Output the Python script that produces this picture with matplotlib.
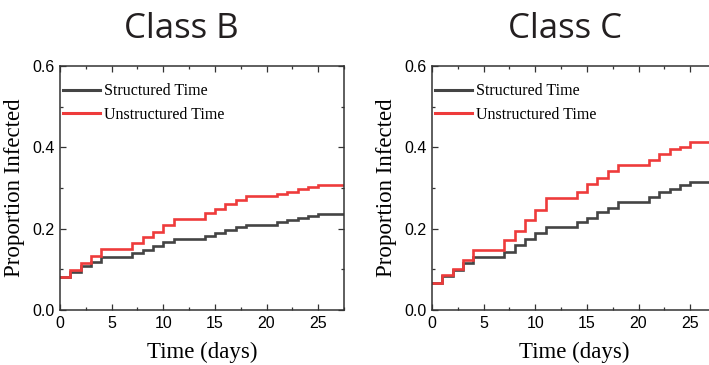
import matplotlib.pyplot as plt
from matplotlib.ticker import MultipleLocator
from matplotlib.lines import Line2D

# day on which each step value starts
days = list(range(26))
x_end = 27.5

b_struct = [0.082, 0.094, 0.107, 0.119, 0.130, 0.130, 0.130, 0.139, 0.148, 0.157,
            0.166, 0.175, 0.175, 0.175, 0.183, 0.190, 0.197, 0.203, 0.209, 0.209,
            0.209, 0.216, 0.221, 0.227, 0.232, 0.235]
b_unstruct = [0.082, 0.098, 0.115, 0.133, 0.150, 0.150, 0.150, 0.164, 0.179, 0.193,
              0.208, 0.223, 0.223, 0.223, 0.238, 0.248, 0.260, 0.270, 0.280, 0.280,
              0.280, 0.285, 0.291, 0.297, 0.303, 0.307]
c_struct = [0.066, 0.084, 0.098, 0.116, 0.131, 0.131, 0.131, 0.143, 0.160, 0.175,
            0.190, 0.205, 0.205, 0.205, 0.216, 0.227, 0.240, 0.252, 0.266, 0.266,
            0.266, 0.277, 0.289, 0.298, 0.307, 0.315]
c_unstruct = [0.066, 0.086, 0.102, 0.123, 0.148, 0.148, 0.148, 0.172, 0.194, 0.221,
              0.246, 0.275, 0.275, 0.275, 0.291, 0.309, 0.325, 0.341, 0.357, 0.357,
              0.357, 0.370, 0.384, 0.395, 0.402, 0.412]

titles = ["Class B", "Class C"]
series = [(b_struct, b_unstruct), (c_struct, c_unstruct)]
labels = ["Structured Time", "Unstructured Time"]
colors = ["#444444", "#ee3b3b"]

fig = plt.figure(figsize=(7.09, 3.65), dpi=100)

W, H = 709, 365
panels = [(60, 181), (432, 565)]   # axes left px, title centre px

for (left_px, title_x), title, (s, u) in zip(panels, titles, series):
    ax = fig.add_axes([left_px / W, (H - 310) / H, 284 / W, 244 / H])
    xs = days + [x_end]
    for vals, col, lab in zip((s, u), colors, labels):
        ax.plot(xs, vals + [vals[-1]], drawstyle="steps-post", color=col,
                lw=1.9, label=lab, solid_joinstyle="miter")
    ax.set_xlim(0, x_end)
    ax.set_ylim(0, 0.6)
    ax.xaxis.set_major_locator(MultipleLocator(5))
    ax.xaxis.set_minor_locator(MultipleLocator(2.5))
    ax.yaxis.set_major_locator(MultipleLocator(0.2))
    ax.yaxis.set_minor_locator(MultipleLocator(0.1))
    ax.tick_params(which="both", direction="in", top=True, right=True,
                   width=0.9, color="#333333", labelsize=11.5)
    ax.tick_params(which="major", length=4, pad=4)
    ax.tick_params(which="minor", length=2)
    for lbl in ax.get_xticklabels() + ax.get_yticklabels():
        lbl.set_fontfamily(["Liberation Sans Narrow", "Liberation Sans"])
    ax.yaxis.set_major_formatter(plt.FuncFormatter(lambda v, p: f"{v:.1f}"))
    for sp in ax.spines.values():
        sp.set_linewidth(1.1)
        sp.set_color("#333333")
    ax.set_xlabel("Time (days)", family="Liberation Serif", fontsize=16.5, labelpad=8)
    ax.set_ylabel("Proportion Infected", family="Liberation Serif", fontsize=16.5, labelpad=5)
    handles = [Line2D([], [], color=c, lw=2.2) for c in colors]
    ax.legend(handles, labels, loc="upper left", bbox_to_anchor=(0.0, 0.942),
              frameon=False, prop={"family": "Liberation Serif", "size": 11.5},
              handlelength=2.3, handletextpad=0.25, labelspacing=0.45,
              borderaxespad=0.1, borderpad=0.1)
    fig.text(title_x / W, 1 - 38 / H, title, ha="center", va="baseline",
             family="Open Sans", fontsize=25, color="#231f20")

fig.savefig("out.png", dpi=100)
